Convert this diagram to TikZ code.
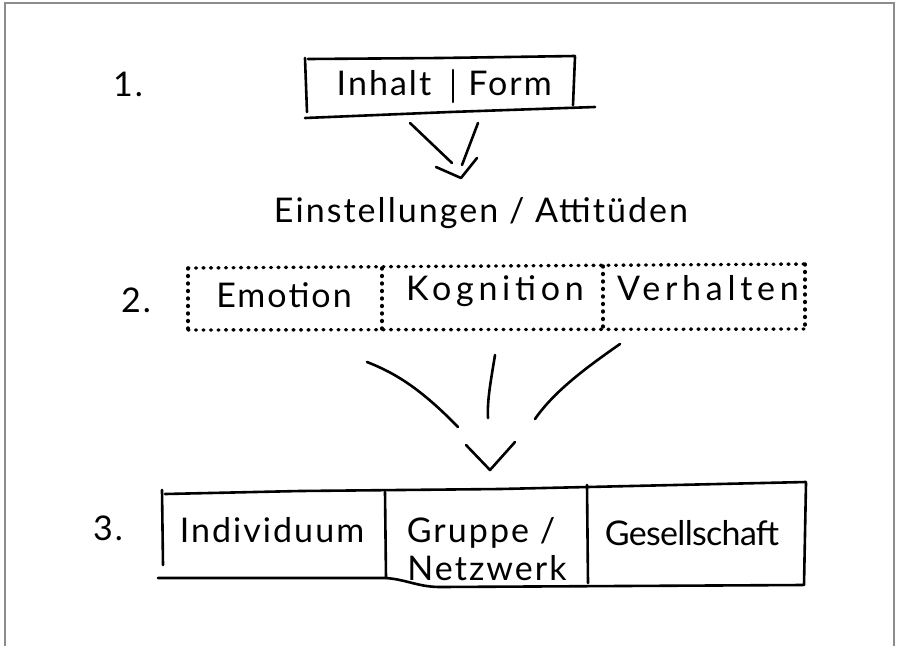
\documentclass[tikz,border=0pt]{standalone}
\usepackage{fontspec}
\setmainfont{Lato}
% letter-spaced variants of the same family for the labels
\newfontfamily\handA[LetterSpace=6]{Lato}
\newfontfamily\handB[LetterSpace=14]{Lato}
\newfontfamily\handC[LetterSpace=-2]{Lato}
\begin{document}
\begin{tikzpicture}[x=1pt,y=-1pt,
  pen/.style={line width=2.6pt, line cap=round, line join=round, black},
  dots/.style={line width=3.4pt, line cap=round, dash pattern=on 1pt off 6.5pt, black},
  hand/.style={font=\handA\fontsize{34}{40}\selectfont, inner sep=0pt, anchor=base},
  handwide/.style={hand, font=\handB\fontsize{34}{40}\selectfont},
  handtight/.style={hand, font=\handC\fontsize{34}{40}\selectfont},
  frame/.style={line width=1.6pt, draw=black!45}]
\useasboundingbox (0,0) rectangle (897,646);

% page frame (open at the bottom)
\draw[frame] (5,646) -- (5,3) -- (894,3) -- (894,646);

% ---------- 1. Inhalt | Form ----------
\node[hand] (n1) at (128,96) {1.};
\node[hand] (inhalt) at (384,95) {Inhalt};
\node[hand] (form) at (510,95) {Form};
\draw[pen] (305,58) -- (307,112);
\draw[pen] (308,59) -- (440,58) -- (575,56);
\draw[pen] (575,57) -- (573,105);
\draw[pen] (453,70) -- (453,102);
\draw[pen] (305,118) -- (450,112) -- (595,107);

% arrow towards the attitudes line
\coordinate (a1s) at (410,123);
\coordinate (a1e) at (452,163);
\coordinate (a2s) at (478,123);
\coordinate (a2e) at (462,165);
\coordinate (h1) at (436,167);
\coordinate (htip) at (461,178);
\coordinate (h2) at (477,158);
\draw[pen] (a1s) -- (a1e);
\draw[pen] (a2s) -- (a2e);
\draw[pen] (h1) -- (htip) -- (h2);

\node[hand] (einst) at (481,222) {Einstellungen / Attitüden};

% ---------- 2. Emotion | Kognition | Verhalten ----------
\node[hand] (n2) at (136,312) {2.};
\node[hand] (emotion) at (284,307) {Emotion};
\node[handwide] (kognition) at (495,300) {Kognition};
\node[handwide] (verhalten) at (708,300) {Verhalten};
\draw[dots] (188,268) -- (805,264);
\draw[dots] (188,330) -- (805,329);
\draw[dots] (188,268) -- (188,330);
\draw[dots] (382,268) -- (382,329);
\draw[dots] (603,266) -- (603,329);
\draw[dots] (805,264) -- (805,329);

% three strokes converging onto one arrow head
\coordinate (cl1) at (367,362);
\coordinate (cl2) at (458,427);
\coordinate (cm1) at (495,355);
\coordinate (cm2) at (488,418);
\coordinate (cr1) at (620,344);
\coordinate (cr2) at (535,419);
\coordinate (v1) at (466,445);
\coordinate (vtip) at (490,470);
\coordinate (v2) at (515,442);
\draw[pen] (cl1) .. controls (395,373) and (420,388) .. (cl2);
\draw[pen] (cm1) .. controls (491,380) and (487,400) .. (cm2);
\draw[pen] (cr1) .. controls (590,365) and (555,390) .. (cr2);
\draw[pen] (v1) -- (vtip) -- (v2);

% ---------- 3. Individuum | Gruppe / Netzwerk | Gesellschaft ----------
\node[hand] (n3) at (108,540) {3.};
\node[hand] (indiv) at (272,542) {Individuum};
\node[hand] (gruppe) at (481,542) {Gruppe /};
\node[hand] (netzwerk) at (487,580) {Netzwerk};
\node[handtight] (gesell) at (692,545) {Gesellschaft};
\draw[pen] (162,490) -- (163,565);
\draw[pen] (165,494) -- (300,491) -- (500,489) -- (806,482);
\draw[pen] (385,492) -- (386,578);
\draw[pen] (587,485) -- (588,583);
\draw[pen] (806,483) -- (804,585);
\draw[pen] (158,578) -- (385,578) .. controls (405,579) and (418,587) .. (440,587) -- (803,585);
\end{tikzpicture}
\end{document}
